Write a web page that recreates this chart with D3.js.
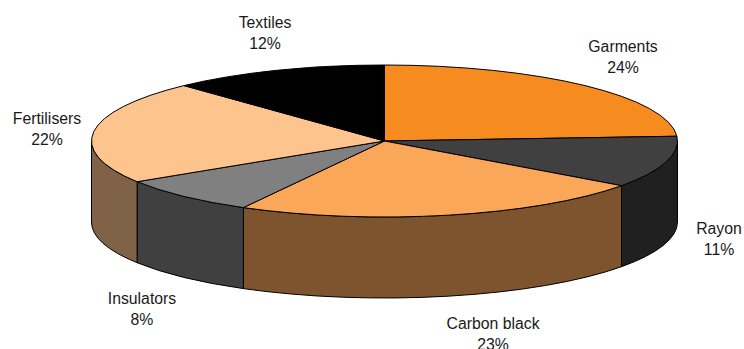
<!DOCTYPE html>
<html>
    <head>
        <title>Pie</title>
        <script src="https://d3js.org/d3.v7.min.js"></script>
        <style>
            html, body { margin: 0; padding: 0; background: #fff; overflow: hidden; }
            svg { display: block; }
            text { font-family: "Liberation Sans", Arial, sans-serif; font-size: 15.8px; fill: #1a1a1a; }
        </style>
    </head>
    <body>
        <div id="pie"></div>
        <script>
            let categories = ["Garments", "Rayon", "Carbon black", "Insulators", "Fertilisers", "Textiles"];
            let shares = [24, 11, 23, 8, 22, 12];
            let topColors = ["#f68b1f", "#404040", "#faa75a", "#808080", "#fdc48e", "#000000"];

            let canvas = { width: 744, height: 349 };
            let pieGeom = { cx: 384.5, cy: 141, rx: 293, ry: 76, depth: 81 };

            // Centre of each two line label, same order as categories
            let labelSpots = [[623, 46], [719, 228], [493, 323], [142, 298], [47, 118], [265, 22]];

            let svg = d3.select("#pie").append("svg")
                        .attr("width", canvas.width)
                        .attr("height", canvas.height);

            let slices = d3.pie().sort(null).value(d => d)(shares);

            // d3 pie angles run clockwise from twelve o'clock
            let rimX = d3.scaleLinear().domain([-1, 1]).range([pieGeom.cx - pieGeom.rx, pieGeom.cx + pieGeom.rx]);
            let rimY = d3.scaleLinear().domain([-1, 1]).range([pieGeom.cy - pieGeom.ry, pieGeom.cy + pieGeom.ry]);
            function rim(a, drop) {
                return [rimX(Math.sin(a)), rimY(-Math.cos(a)) + (drop || 0)];
            }

            function ellipseArc(to, large, sweep) {
                return "A" + pieGeom.rx + "," + pieGeom.ry + " 0 " + large + " " + sweep + " " + to[0] + "," + to[1];
            }

            // Half of the top colour gives the shaded wall colour
            function wallColor(c) {
                let col = d3.rgb(c);
                return d3.rgb(col.r / 2, col.g / 2, col.b / 2).formatHex();
            }

            function wallPath(d) {
                // only the front half of the rim is visible
                let a0 = Math.max(d.startAngle, Math.PI / 2);
                let a1 = Math.min(d.endAngle, 3 * Math.PI / 2);
                if (a1 <= a0) return null;
                let p0 = rim(a0), p1 = rim(a1);
                let q0 = rim(a0, pieGeom.depth), q1 = rim(a1, pieGeom.depth);
                return "M" + p0 + ellipseArc(p1, 0, 1) + "L" + q1 + ellipseArc(q0, 0, 0) + "Z";
            }

            function topPath(d) {
                let p0 = rim(d.startAngle), p1 = rim(d.endAngle);
                let large = d.endAngle - d.startAngle > Math.PI ? 1 : 0;
                return "M" + pieGeom.cx + "," + pieGeom.cy + "L" + p0 + ellipseArc(p1, large, 1) + "Z";
            }

            svg.append("g").selectAll("path")
               .data(slices.filter(d => wallPath(d)))
               .join("path")
               .attr("d", wallPath)
               .style("fill", d => wallColor(topColors[d.index]))
               .style("stroke", "#000").style("stroke-width", "1px").style("stroke-linejoin", "round");

            svg.append("g").selectAll("path")
               .data(slices)
               .join("path")
               .attr("d", topPath)
               .style("fill", d => topColors[d.index])
               .style("stroke", "#000").style("stroke-width", "1px").style("stroke-linejoin", "round");

            let labels = svg.append("g").selectAll("text")
               .data(slices)
               .join("text")
               .attr("text-anchor", "middle")
               .attr("transform", d => "translate(" + labelSpots[d.index] + ")");

            labels.append("tspan").attr("x", 0).attr("y", 0).attr("dy", "0.35em")
               .text(d => categories[d.index]);
            labels.append("tspan").attr("x", 0).attr("y", 21.5).attr("dy", "0.35em")
               .text(d => d.value + "%");
        </script>
    </body>
</html>
